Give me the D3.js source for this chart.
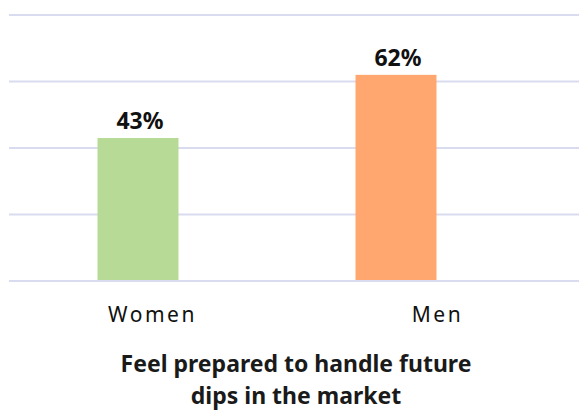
<!DOCTYPE html>
<html><head><meta charset="utf-8">
<script src="https://cdn.jsdelivr.net/npm/d3@7"></script>
<style>
html,body{margin:0;padding:0;background:#fff;}
svg{display:block;}
</style></head>
<body>
<svg id="chart" width="579" height="410"></svg>
<script>
const categories = ["Women", "Men"];
const values = [0.43, 0.62];
const valueLabels = ["43%", "62%"];
const colors = ["#b7db96", "#ffa76e"];
const gridTicks = [0, 0.2, 0.4, 0.6, 0.8];
const titleLines = ["Feel prepared to handle future", "dips in the market"];

const svg = d3.select("#chart");
const plotLeft = 9, plotRight = 579, plotTop = 15, plotBottom = 281;
const barW = 81;
const FONT = "'Noto Sans', 'Open Sans', sans-serif";

const y = d3.scaleLinear().domain([0, 0.8]).range([plotBottom, plotTop]);
const xLabel = d3.scaleBand().domain(categories).range([plotLeft, plotRight]);
const xBar = d3.scalePoint().domain(categories).range([138, 396]);

const gridColor = "#d9dcee";

svg.append("g").selectAll("line").data(gridTicks.filter(t => t > 0)).join("line")
  .attr("x1", plotLeft).attr("x2", plotRight)
  .attr("y1", d => y(d)).attr("y2", d => y(d))
  .attr("stroke", gridColor).attr("stroke-width", 2);

svg.append("g").selectAll("rect").data(categories).join("rect")
  .attr("x", d => xBar(d) - barW / 2)
  .attr("width", barW)
  .attr("y", (d, i) => y(values[i]))
  .attr("height", (d, i) => y(0) - y(values[i]) + 1)
  .attr("fill", (d, i) => colors[i]);

svg.append("line")
  .attr("x1", plotLeft).attr("x2", plotRight)
  .attr("y1", y(0)).attr("y2", y(0))
  .attr("stroke", gridColor).attr("stroke-width", 2);

svg.append("g").selectAll("text").data(categories).join("text")
  .attr("x", d => xBar(d) + 2)
  .attr("y", (d, i) => y(values[i]) - 9)
  .attr("text-anchor", "middle")
  .attr("font-family", FONT)
  .attr("font-weight", "bold")
  .attr("font-size", 23)
  .attr("fill", "#111")
  .text((d, i) => valueLabels[i]);

svg.append("g").selectAll("text").data(categories).join("text")
  .attr("x", d => xLabel(d) + xLabel.bandwidth() / 2 + 1)
  .attr("y", 322)
  .attr("text-anchor", "middle")
  .attr("font-family", FONT)
  .attr("font-size", 21)
  .attr("letter-spacing", "2.5px")
  .attr("fill", "#111")
  .text(d => d);

svg.append("g").selectAll("text").data(titleLines).join("text")
  .attr("x", 296)
  .attr("y", (d, i) => 372 + i * 32)
  .attr("text-anchor", "middle")
  .attr("font-family", FONT)
  .attr("font-weight", "bold")
  .attr("font-size", 23)
  .attr("fill", "#1a1a1a")
  .text(d => d);
</script>
</body></html>
